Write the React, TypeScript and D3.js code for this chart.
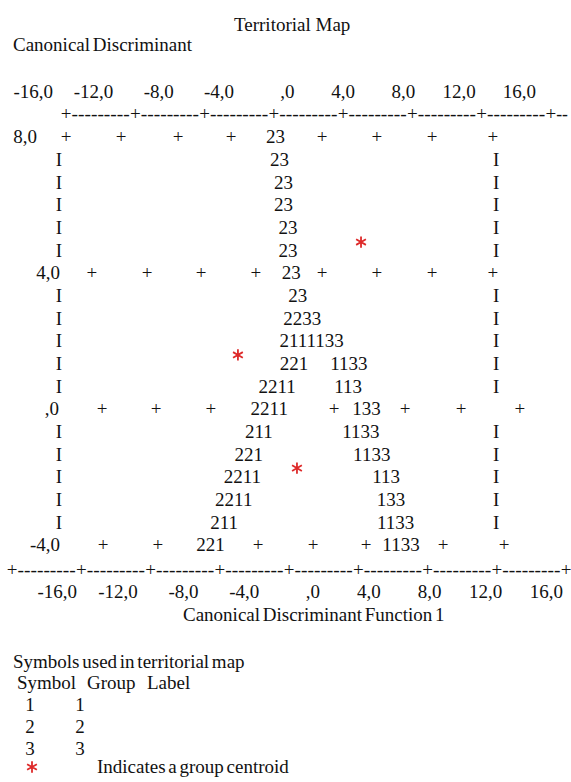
import React from "react";
import * as d3 from "d3";

// axis ticks of Canonical Discriminant Function 1 (and labels as SPSS prints them)
const ticks = [-16, -12, -8, -4, 0, 4, 8, 12, 16];
const tickLabels = ["-16,0", "-12,0", "-8,0", "-4,0", ",0", "4,0", "8,0", "12,0", "16,0"];

// territory boundary strings, one list per map row (top to bottom): [symbols, function 1 centre]
const territoryRows: [string, number][][] = [
  [["23", -0.78]],
  [["23", -0.55]],
  [["23", -0.32]],
  [["23", -0.32]],
  [["23", -0.06]],
  [["23", -0.06]],
  [["23", 0.13]],
  [["23", 0.5]],
  [["2233", 0.76]],
  [["2111133", 1.31]],
  [["221", 0.29], ["1133", 3.46]],
  [["2211", -0.69], ["113", 3.41]],
  [["2211", -1.14], ["133", 4.47]],
  [["211", -1.74], ["1133", 4.15]],
  [["221", -2.33], ["1133", 4.78]],
  [["2211", -2.69], ["113", 5.61]],
  [["2211", -3.19], ["133", 5.89]],
  [["211", -3.75], ["1133", 6.16]],
  [["221", -4.53], ["1133", 6.47]],
];

// labelled rows of function 2 with their grid crosses (function 1 positions)
const gridRows = [
  { row: 0, label: "8,0", labelEnd: -14.56, plus: [-12.88, -9.7, -6.41, -3.35, 1.91, 5.08, 8.26, 11.78] },
  { row: 6, label: "4,0", labelEnd: -13.23, plus: [-11.38, -8.2, -5.08, -1.91, 1.91, 5.08, 8.26, 11.78] },
  { row: 12, label: ",0", labelEnd: -13.29, plus: [-10.8, -7.68, -4.51, 2.6, 6.7, 9.94, 13.34] },
  { row: 18, label: "-4,0", labelEnd: -13.23, plus: [-10.74, -7.57, -1.79, 1.39, 4.45, 8.9, 12.42] },
];
const borderLeft = -13.29;
const borderRight = 11.96;

// group centroids [function 1, function 2]
const centroids: [number, number][] = [
  [4.16, 4.91],
  [-2.95, 1.59],
  [0.46, -1.74],
];

const legendSymbols = ["1", "2", "3"];
const legendGroups = ["1", "2", "3"];

const W = 571;
const H = 782;
const FS = 19;
const font = "'Liberation Serif', 'Times New Roman', serif";
const red = "#de2a2a";

const App = () => {
  const x = d3.scaleLinear().domain([-16, 16]).range([12, 566]);
  const row = d3.scaleLinear().domain([0, 18]).range([137, 545]);
  const y2 = d3.scaleLinear().domain([8, -4]).range([137, 545]);
  const topRule = d3.scaleLinear().domain([-16, 16]).range([66, 620]);
  const topLabel = d3.scaleLinear().domain([-16, 16]).range([53, 536]);
  const bottomLabel = d3.scaleLinear().domain([-16, 16]).range([77, 563]);
  const base = FS * 0.34;
  const gridIdx = gridRows.map(g => g.row);
  const star = d3.symbol().type(d3.symbolAsterisk).size(90)();

  const ruler = (sc: d3.ScaleLinear<number, number>, yy: number, marks: number[], key: string) => (
    <g key={key}>
      {marks.map((t, i) => (
        <g key={i}>
          <text x={sc(t)} y={yy + base} textAnchor="middle">+</text>
          <text
            x={sc(t) + 5.5}
            y={yy + base}
            textLength={sc(t + 4) - sc(t) - 11}
            lengthAdjust="spacingAndGlyphs"
          >
            ---------
          </text>
        </g>
      ))}
    </g>
  );

  const lastTop = topRule(12);

  return (
    <svg
      width={W}
      height={H}
      style={{ position: "absolute", left: 0, top: 0, background: "#fff" }}
      fontFamily={font}
      fontSize={FS}
      fill="#111"
    >
      <text x={234} y={25 + base}>Territorial Map</text>
      <text x={13} y={45 + base} wordSpacing={-2}>Canonical Discriminant</text>

      {/* top ruler */}
      {ticks.map((t, i) => (
        <text key={t} x={topLabel(t)} y={92 + base} textAnchor="end">{tickLabels[i]}</text>
      ))}
      {ruler(topRule, 114, ticks.slice(0, 7), "top")}
      <text x={lastTop} y={114 + base} textAnchor="middle">+</text>
      <text x={lastTop + 5.5} y={114 + base} textLength={W - 3 - lastTop - 5.5} lengthAdjust="spacingAndGlyphs">--</text>

      {/* grid rows with function 2 labels */}
      {gridRows.map(g => (
        <g key={g.row}>
          <text x={x(g.labelEnd)} y={y2(8 - (g.row * 12) / 18) + base} textAnchor="end">{g.label}</text>
          {g.plus.map((p, i) => (
            <text key={i} x={x(p)} y={row(g.row) + base} textAnchor="middle">+</text>
          ))}
        </g>
      ))}

      {/* border I's */}
      {territoryRows.map((_, i) =>
        gridIdx.includes(i) ? null : (
          <g key={i}>
            <text x={x(borderLeft)} y={row(i) + base} textAnchor="middle">I</text>
            <text x={x(borderRight)} y={row(i) + base} textAnchor="middle">I</text>
          </g>
        )
      )}

      {/* territory boundaries */}
      {territoryRows.map((r, i) =>
        r.map(([s, f], j) => (
          <text key={i + "-" + j} x={x(f)} y={row(i) + base} textAnchor="middle">{s}</text>
        ))
      )}

      {/* centroids */}
      {centroids.map(([f1, f2], i) => (
        <path key={i} d={star} transform={`translate(${x(f1)},${y2(f2)})`} fill="none" stroke={red} strokeWidth={1.8} />
      ))}

      {/* bottom ruler */}
      {ruler(x, 570, ticks.slice(0, 8), "bottom")}
      <text x={x(16)} y={570 + base} textAnchor="middle">+</text>
      {ticks.map((t, i) => (
        <text key={t} x={bottomLabel(t)} y={592 + base} textAnchor="end">{tickLabels[i]}</text>
      ))}
      <text x={183} y={615 + base} wordSpacing={-2}>Canonical Discriminant Function 1</text>

      {/* legend */}
      <text x={13} y={662 + base} wordSpacing={-2}>Symbols used in territorial map</text>
      <text x={17} y={683 + base}>Symbol</text>
      <text x={87} y={683 + base}>Group</text>
      <text x={147} y={683 + base}>Label</text>
      {legendSymbols.map((s, i) => (
        <g key={s}>
          <text x={30} y={705 + i * 22 + base} textAnchor="middle">{s}</text>
          <text x={80} y={705 + i * 22 + base} textAnchor="middle">{legendGroups[i]}</text>
        </g>
      ))}
      <path d={star} transform="translate(32,767)" fill="none" stroke={red} strokeWidth={1.8} />
      <text x={97} y={767 + base} wordSpacing={-2}>Indicates a group centroid</text>
    </svg>
  );
};

export default App;
